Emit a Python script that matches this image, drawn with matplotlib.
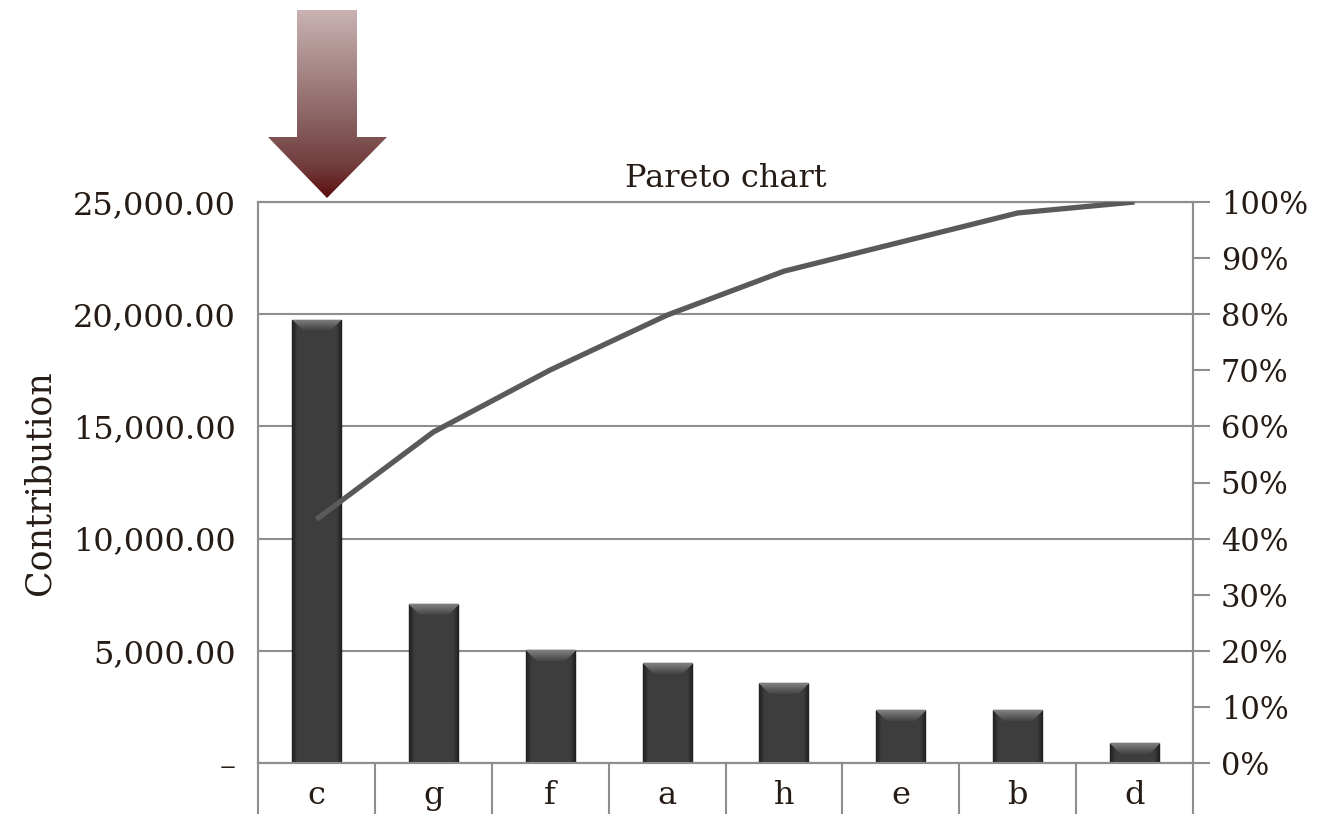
import numpy as np
import matplotlib
matplotlib.use("Agg")
import matplotlib.pyplot as plt
from matplotlib.patches import Polygon
from matplotlib.ticker import FixedLocator, FuncFormatter

# --- data -------------------------------------------------------------
categories = ["c", "g", "f", "a", "h", "e", "b", "d"]
contribution = [19750, 7080, 5030, 4450, 3560, 2360, 2360, 890]
y_ticks = [0, 5000, 10000, 15000, 20000, 25000]
pct_ticks = [0.0, 0.1, 0.2, 0.3, 0.4, 0.5, 0.6, 0.7, 0.8, 0.9, 1.0]

title = "Pareto chart"
y_label = "Contribution"

# --- style ------------------------------------------------------------
plt.rcParams["font.family"] = ["DejaVu Serif"]
text_color = "#261b15"
grid_color = "#8e8e8e"
line_color = "#5a5a5a"

W, H = 1336, 814
fig = plt.figure(figsize=(W / 100, H / 100), dpi=100)
fig.patch.set_facecolor("white")

ax_box = [258 / W, 51 / H, (1193 - 258) / W, (763 - 202) / H]
ax = fig.add_axes(ax_box)
ax2 = ax.twinx()

x = np.arange(len(categories))
values = np.array(contribution, dtype=float)
cum_pct = np.cumsum(values) / values.sum()

# --- bars with bevelled shading ---------------------------------------
bar_w = 0.42
bars = ax.bar(x, values, width=bar_w, color="#3a3a3a", edgecolor="#1b1b1b",
              linewidth=1.0, zorder=3)

ax_h_px = (763 - 202)
ax_w_px = (1193 - 258)
ymax = 25000
for rect, v in zip(bars, values):
    hp = max(int(round(v / ymax * ax_h_px)), 2)
    wp = int(round(bar_w / 8.0 * ax_w_px))
    cols = np.arange(wp)
    rows = np.arange(hp)[:, None]
    # horizontal profile: darker at the sides
    edge = np.minimum(cols, wp - 1 - cols).astype(float)
    prof = 0.13 + 0.11 * np.clip(edge / 5.0, 0, 1)
    img = np.tile(prof, (hp, 1))
    # top bevel
    bevel = 11
    in_bevel = (rows < bevel) & (rows <= edge[None, :])
    top_shade = 0.50 - 0.25 * (rows / bevel)
    img = np.where(in_bevel, top_shade * np.ones_like(img), img)
    rgb = np.dstack([img, img, img])
    x0 = rect.get_x()
    im = ax.imshow(rgb, extent=(x0, x0 + bar_w, 0, v), aspect="auto",
                   origin="upper", zorder=3.5, interpolation="bilinear")
    im.set_clip_path(rect)

# --- cumulative percentage line ---------------------------------------
ax2.plot(x, cum_pct, color=line_color, linewidth=3.8, solid_capstyle="butt",
         zorder=5)

# --- axes setup -------------------------------------------------------
ax.set_xlim(-0.5, len(categories) - 0.5)
ax.set_ylim(0, 25000)
ax2.set_ylim(0, 1.0)

ax.set_yticks(y_ticks)
ax.yaxis.set_major_formatter(FuncFormatter(
    lambda v, p: "\u2013" if v == 0 else f"{v:,.2f}"))
ax.tick_params(axis="y", length=0, pad=16, labelsize=23, labelcolor=text_color)
ax.yaxis.grid(True, color=grid_color, linewidth=1.5, zorder=0)
ax.set_axisbelow(True)

ax.set_xticks(x)
ax.set_xticklabels(categories)
ax.tick_params(axis="x", which="major", length=0, pad=12, labelsize=23,
               labelcolor=text_color)
ax.xaxis.set_minor_locator(FixedLocator(np.arange(-0.5, len(categories), 1.0)))
ax.tick_params(axis="x", which="minor", length=40, width=1.5,
               color=grid_color, direction="out")

ax2.yaxis.set_major_locator(FixedLocator(pct_ticks))
ax2.yaxis.set_major_formatter(FuncFormatter(lambda v, p: f"{v * 100:.0f}%"))
ax2.tick_params(axis="y", length=12, width=1.5, color=grid_color, pad=8,
                labelsize=22, labelcolor=text_color)

for a in (ax, ax2):
    for s in a.spines.values():
        s.set_color(grid_color)
        s.set_linewidth(1.5)

ax.set_ylabel(y_label, fontsize=25, color=text_color, labelpad=12)
ax.set_title(title, fontsize=23, color=text_color, pad=11)

# --- pointer arrow above the first bar ---------------------------------
ov = fig.add_axes([0, 0, 1, 1], zorder=10)
ov.set_xlim(0, W)
ov.set_ylim(H, 0)
ov.axis("off")
ov.patch.set_visible(False)

arrow_pts = [(297, 10), (357, 10), (357, 137), (387, 137), (327, 198),
             (268, 137), (297, 137)]
arrow = Polygon(arrow_pts, closed=True, facecolor="none", edgecolor="none")
ov.add_patch(arrow)

stops_y = np.array([10, 80, 137, 170, 198])
stops_c = np.array([
    [0.79, 0.70, 0.70],
    [0.63, 0.50, 0.50],
    [0.50, 0.33, 0.33],
    [0.44, 0.22, 0.22],
    [0.36, 0.05, 0.05],
])
ys = np.linspace(10, 198, 200)
grad = np.stack([np.interp(ys, stops_y, stops_c[:, k]) for k in range(3)],
                axis=-1)
grad = np.repeat(grad[:, None, :], 4, axis=1)
gim = ov.imshow(grad, extent=(268, 387, 198, 10), aspect="auto",
                interpolation="bilinear", origin="upper")
gim.set_clip_path(arrow)
ov.set_xlim(0, W)
ov.set_ylim(H, 0)

fig.savefig("out.png", dpi=100, facecolor="white")
